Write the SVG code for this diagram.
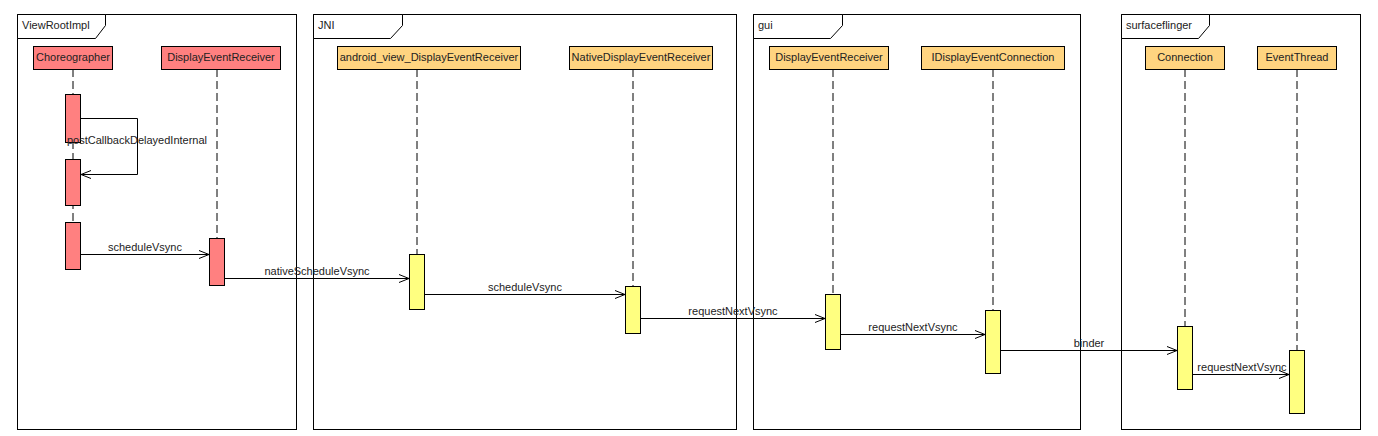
<svg xmlns="http://www.w3.org/2000/svg" width="1378" height="436" viewBox="0 0 1378 436">
<defs>
<style>
.frame{fill:none;stroke:#000;stroke-width:1}
.tab{fill:#fff;stroke:#000;stroke-width:1}
.t{font-family:"Liberation Sans",Arial,sans-serif;font-size:11px;fill:#222}
.ft{font-family:"Liberation Sans",Arial,sans-serif;font-size:11px;fill:#222}
.red{fill:#FF8080;stroke:#000;stroke-width:1}
.org{fill:#FFD480;stroke:#000;stroke-width:1}
.yel{fill:#FFFF80;stroke:#000;stroke-width:1}
.life{stroke:#000;stroke-width:1;stroke-dasharray:8,4;fill:none}
.msg{stroke:#000;stroke-width:1;fill:none;marker-end:url(#arr)}
</style>
<marker id="arr" markerWidth="12" markerHeight="10" refX="11" refY="5" orient="auto" markerUnits="userSpaceOnUse">
<path d="M1,1 L11,5 L1,9" fill="none" stroke="#000" stroke-width="1"/>
</marker>
</defs>
<rect width="1378" height="436" fill="#fff"/>

<g id="frame-viewrootimpl">
<rect class="frame" x="17.5" y="14.5" width="279" height="415"/>
<path class="tab" d="M17.5,14.5 L105.5,14.5 L105.5,25.5 L95.5,38.5 L17.5,38.5 Z"/>
<text class="ft" x="22" y="29">ViewRootImpl</text>
</g>
<g id="frame-jni">
<rect class="frame" x="313.5" y="14.5" width="423" height="415"/>
<path class="tab" d="M313.5,14.5 L402.5,14.5 L402.5,25.5 L390.5,38.5 L313.5,38.5 Z"/>
<text class="ft" x="318" y="29">JNI</text>
</g>
<g id="frame-gui">
<rect class="frame" x="753.5" y="14.5" width="327" height="415"/>
<path class="tab" d="M753.5,14.5 L842.5,14.5 L842.5,25.5 L830.5,38.5 L753.5,38.5 Z"/>
<text class="ft" x="758" y="29">gui</text>
</g>
<g id="frame-surfaceflinger">
<rect class="frame" x="1121.5" y="14.5" width="239" height="415"/>
<path class="tab" d="M1121.5,14.5 L1209.5,14.5 L1209.5,25.5 L1198.5,38.5 L1121.5,38.5 Z"/>
<text class="ft" x="1126" y="29">surfaceflinger</text>
</g>

<g id="lifelines">
<line class="life" x1="73" y1="69" x2="73" y2="222"/>
<line class="life" x1="217" y1="69" x2="217" y2="238"/>
<line class="life" x1="417" y1="69" x2="417" y2="254"/>
<line class="life" x1="633" y1="69" x2="633" y2="286"/>
<line class="life" x1="833" y1="69" x2="833" y2="294"/>
<line class="life" x1="993" y1="69" x2="993" y2="310"/>
<line class="life" x1="1185" y1="69" x2="1185" y2="326"/>
<line class="life" x1="1297" y1="69" x2="1297" y2="350"/>
</g>

<g id="choreographer">
<rect class="red" x="33.5" y="46.5" width="79" height="23"/>
<text class="t" x="73" y="61" text-anchor="middle">Choreographer</text>
<rect class="red" x="65.5" y="94.5" width="15" height="48"/>
<rect class="red" x="65.5" y="159.5" width="15" height="46"/>
<rect class="red" x="65.5" y="222.5" width="15" height="47"/>
</g>
<g id="displayeventreceiver-java">
<rect class="red" x="161.5" y="46.5" width="119" height="23"/>
<text class="t" x="221" y="61" text-anchor="middle">DisplayEventReceiver</text>
<rect class="red" x="209.5" y="238.5" width="15" height="47"/>
</g>
<g id="android-view-displayeventreceiver">
<rect class="org" x="337.5" y="46.5" width="183" height="23"/>
<text class="t" x="429" y="61" text-anchor="middle">android_view_DisplayEventReceiver</text>
<rect class="yel" x="409.5" y="254.5" width="15" height="55"/>
</g>
<g id="nativedisplayeventreceiver">
<rect class="org" x="569.5" y="46.5" width="143" height="23"/>
<text class="t" x="641" y="61" text-anchor="middle">NativeDisplayEventReceiver</text>
<rect class="yel" x="625.5" y="286.5" width="15" height="47"/>
</g>
<g id="displayeventreceiver-gui">
<rect class="org" x="769.5" y="46.5" width="119" height="23"/>
<text class="t" x="829" y="61" text-anchor="middle">DisplayEventReceiver</text>
<rect class="yel" x="825.5" y="294.5" width="15" height="55"/>
</g>
<g id="idisplayeventconnection">
<rect class="org" x="921.5" y="46.5" width="143" height="23"/>
<text class="t" x="993" y="61" text-anchor="middle">IDisplayEventConnection</text>
<rect class="yel" x="985.5" y="310.5" width="15" height="63"/>
</g>
<g id="connection">
<rect class="org" x="1145.5" y="46.5" width="79" height="23"/>
<text class="t" x="1185" y="61" text-anchor="middle">Connection</text>
<rect class="yel" x="1177.5" y="326.5" width="15" height="63"/>
</g>
<g id="eventthread">
<rect class="org" x="1257.5" y="46.5" width="79" height="23"/>
<text class="t" x="1297" y="61" text-anchor="middle">EventThread</text>
<rect class="yel" x="1289.5" y="350.5" width="15" height="63"/>
</g>

<g id="connectors">
<polyline class="msg" points="80.5,118.5 137.5,118.5 137.5,174.5 81,174.5"/>
<text class="t" x="137" y="144" text-anchor="middle">postCallbackDelayedInternal</text>
<line class="msg" x1="80.5" y1="254.5" x2="209" y2="254.5"/>
<text class="t" x="145" y="251" text-anchor="middle">scheduleVsync</text>
<line class="msg" x1="224.5" y1="278.5" x2="409" y2="278.5"/>
<text class="t" x="317" y="275" text-anchor="middle">nativeScheduleVsync</text>
<line class="msg" x1="424.5" y1="294.5" x2="625" y2="294.5"/>
<text class="t" x="525" y="291" text-anchor="middle">scheduleVsync</text>
<line class="msg" x1="640.5" y1="318.5" x2="825" y2="318.5"/>
<text class="t" x="733" y="315" text-anchor="middle">requestNextVsync</text>
<line class="msg" x1="840.5" y1="334.5" x2="985" y2="334.5"/>
<text class="t" x="913" y="331" text-anchor="middle">requestNextVsync</text>
<line class="msg" x1="1000.5" y1="350.5" x2="1177" y2="350.5"/>
<text class="t" x="1089" y="347" text-anchor="middle">binder</text>
<line class="msg" x1="1192.5" y1="374.5" x2="1289" y2="374.5"/>
<text class="t" x="1242" y="371" text-anchor="middle">requestNextVsync</text>
</g>
</svg>
